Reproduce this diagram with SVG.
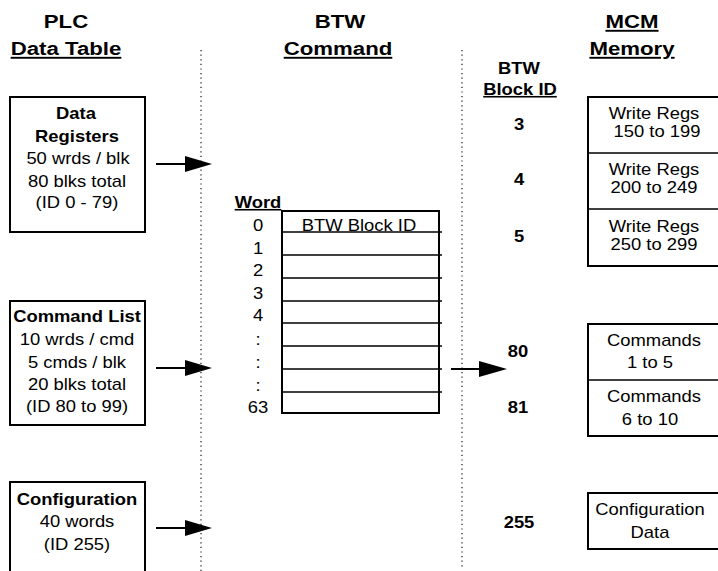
<svg xmlns="http://www.w3.org/2000/svg" width="718" height="571" viewBox="0 0 718 571">
  <defs>
    <style>
      text { font-family: "Liberation Sans", Arial, sans-serif; fill: #000; text-anchor: middle; }
      .h { font-size: 19px; font-weight: bold; }
      .b { font-size: 16px; font-weight: bold; }
      .n { font-size: 16px; }
      .u { text-decoration: underline; }
      .box { fill: #fff; stroke: #000; stroke-width: 2; }
      .rule { stroke: #000; stroke-width: 1.5; }
      .sep { stroke: #000; stroke-width: 1.1; stroke-dasharray: 1.2 3.4; fill: none; }
      .arrow { stroke: #000; stroke-width: 2; fill: none; }
      .head { fill: #000; }
    </style>
  </defs>
  <rect width="718" height="571" fill="#fff"/>

  <!-- column separators -->
  <g id="separators">
    <line class="sep" x1="201" y1="50" x2="201" y2="571"/>
    <line class="sep" x1="462" y1="50" x2="462" y2="567"/>
  </g>

  <!-- column headings -->
  <g id="headings">
    <text class="h" transform="translate(66 28) scale(1.17 1)">PLC</text>
    <text class="h u" transform="translate(66 55) scale(1.17 1)">Data Table</text>
    <text class="h" transform="translate(340 28) scale(1.17 1)">BTW</text>
    <text class="h u" transform="translate(338 55) scale(1.17 1)">Command</text>
    <text class="h u" transform="translate(632 28) scale(1.17 1)">MCM</text>
    <text class="h u" transform="translate(632 55) scale(1.17 1)">Memory</text>
    <text class="b" transform="translate(519 74) scale(1.15 1)">BTW</text>
    <text class="b u" transform="translate(520 95) scale(1.15 1)">Block ID</text>
  </g>

  <!-- PLC data table blocks -->
  <g id="data-registers">
    <rect class="box" x="10" y="97" width="135" height="135"/>
    <text class="b" transform="translate(76 119) scale(1.15 1)">Data</text>
    <text class="b" transform="translate(77 142) scale(1.15 1)">Registers</text>
    <text class="n" transform="translate(78 164) scale(1.15 1)">50 wrds / blk</text>
    <text class="n" transform="translate(77 186.5) scale(1.15 1)">80 blks total</text>
    <text class="n" transform="translate(77 208) scale(1.15 1)">(ID 0 - 79)</text>
  </g>

  <g id="command-list">
    <rect class="box" x="10" y="301" width="135" height="124"/>
    <text class="b" transform="translate(77 322) scale(1.15 1)">Command List</text>
    <text class="n" transform="translate(77 345) scale(1.15 1)">10 wrds / cmd</text>
    <text class="n" transform="translate(77 367.5) scale(1.15 1)">5 cmds / blk</text>
    <text class="n" transform="translate(77 390) scale(1.15 1)">20 blks total</text>
    <text class="n" transform="translate(77 412) scale(1.15 1)">(ID 80 to 99)</text>
  </g>

  <g id="configuration">
    <rect class="box" x="10" y="482" width="135" height="110"/>
    <text class="b" transform="translate(77 505) scale(1.15 1)">Configuration</text>
    <text class="n" transform="translate(77 527) scale(1.15 1)">40 words</text>
    <text class="n" transform="translate(77 549.5) scale(1.15 1)">(ID 255)</text>
  </g>

  <!-- BTW command word table -->
  <g id="btw-command">
    <text class="b u" transform="translate(258 208) scale(1.15 1)">Word</text>
    <rect class="box" x="282" y="211" width="157" height="202"/>
    <line class="rule" x1="282" y1="232" x2="442" y2="232"/>
    <line class="rule" x1="282" y1="255" x2="442" y2="255"/>
    <line class="rule" x1="282" y1="278" x2="442" y2="278"/>
    <line class="rule" x1="282" y1="301" x2="442" y2="301"/>
    <line class="rule" x1="282" y1="323" x2="442" y2="323"/>
    <line class="rule" x1="282" y1="346" x2="442" y2="346"/>
    <line class="rule" x1="282" y1="369" x2="442" y2="369"/>
    <line class="rule" x1="282" y1="392" x2="442" y2="392"/>
    <text class="n" transform="translate(359 231) scale(1.15 1)">BTW Block ID</text>
    <text class="n" transform="translate(258 231) scale(1.15 1)">0</text>
    <text class="n" transform="translate(258 254) scale(1.15 1)">1</text>
    <text class="n" transform="translate(258 276) scale(1.15 1)">2</text>
    <text class="n" transform="translate(258 299) scale(1.15 1)">3</text>
    <text class="n" transform="translate(258 321) scale(1.15 1)">4</text>
    <text class="n" transform="translate(258 345) scale(1.15 1)">:</text>
    <text class="n" transform="translate(258 368) scale(1.15 1)">:</text>
    <text class="n" transform="translate(258 391) scale(1.15 1)">:</text>
    <text class="n" transform="translate(258 413) scale(1.15 1)">63</text>
  </g>

  <!-- BTW block numbers -->
  <g id="block-ids">
    <text class="b" transform="translate(519 130) scale(1.15 1)">3</text>
    <text class="b" transform="translate(519 185) scale(1.15 1)">4</text>
    <text class="b" transform="translate(519 242) scale(1.15 1)">5</text>
    <text class="b" transform="translate(518 357) scale(1.15 1)">80</text>
    <text class="b" transform="translate(518 413) scale(1.15 1)">81</text>
    <text class="b" transform="translate(519 528) scale(1.15 1)">255</text>
  </g>

  <!-- MCM memory areas -->
  <g id="write-regs">
    <rect class="box" x="588" y="97" width="140" height="169"/>
    <line class="rule" x1="588" y1="153" x2="718" y2="153"/>
    <line class="rule" x1="588" y1="209" x2="718" y2="209"/>
    <text class="n" transform="translate(654 119) scale(1.15 1)">Write Regs</text>
    <text class="n" transform="translate(657 137) scale(1.15 1)">150 to 199</text>
    <text class="n" transform="translate(654 175) scale(1.15 1)">Write Regs</text>
    <text class="n" transform="translate(654 193) scale(1.15 1)">200 to 249</text>
    <text class="n" transform="translate(654 232) scale(1.15 1)">Write Regs</text>
    <text class="n" transform="translate(654 250) scale(1.15 1)">250 to 299</text>
  </g>

  <g id="commands">
    <rect class="box" x="588" y="324" width="140" height="112"/>
    <line class="rule" x1="588" y1="380" x2="718" y2="380"/>
    <text class="n" transform="translate(654 346) scale(1.15 1)">Commands</text>
    <text class="n" transform="translate(650 368) scale(1.15 1)">1 to 5</text>
    <text class="n" transform="translate(654 402) scale(1.15 1)">Commands</text>
    <text class="n" transform="translate(650 425) scale(1.15 1)">6 to 10</text>
  </g>

  <g id="configuration-data">
    <rect class="box" x="588" y="493" width="140" height="56"/>
    <text class="n" transform="translate(650 515) scale(1.15 1)">Configuration</text>
    <text class="n" transform="translate(650 538) scale(1.15 1)">Data</text>
  </g>

  <!-- transfer arrows -->
  <g id="connectors">
    <line class="arrow" x1="156" y1="164" x2="186" y2="164"/>
    <polygon class="head" points="185,156 212,164 185,172"/>
    <line class="arrow" x1="156" y1="368" x2="186" y2="368"/>
    <polygon class="head" points="185,360 212,368 185,376"/>
    <line class="arrow" x1="156" y1="528" x2="186" y2="528"/>
    <polygon class="head" points="185,520 212,528 185,536"/>
    <line class="arrow" x1="451" y1="369" x2="480" y2="369"/>
    <polygon class="head" points="479,361 507,369 479,377"/>
  </g>
</svg>
